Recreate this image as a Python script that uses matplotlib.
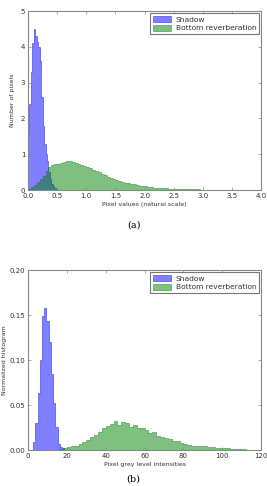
import numpy as np
import matplotlib
matplotlib.use('Agg')
import matplotlib.pyplot as plt

# (a) natural scale
shadow_a = [1.6, 2.4, 3.3, 4.1, 4.5, 4.3, 4.15, 4.0, 3.6, 2.6,
            1.8, 1.3, 1.0, 0.8, 0.5, 0.3, 0.18, 0.1, 0.05, 0.02]
shadow_a_start, shadow_a_width = 0.0, 0.025

bottom_a = [0.03, 0.08, 0.14, 0.22, 0.30, 0.40, 0.52, 0.63, 0.69, 0.72,
            0.74, 0.76, 0.79, 0.82, 0.80, 0.78, 0.76, 0.74, 0.71, 0.68,
            0.65, 0.61, 0.57, 0.53, 0.49, 0.45, 0.41, 0.37, 0.34, 0.31,
            0.29, 0.26, 0.23, 0.21, 0.19, 0.17, 0.16, 0.14, 0.12, 0.11,
            0.10, 0.09, 0.08, 0.07, 0.06, 0.055, 0.05, 0.045, 0.04, 0.035,
            0.03, 0.028, 0.026, 0.024, 0.022, 0.02, 0.018, 0.016, 0.015, 0.014,
            0.013, 0.012, 0.011, 0.010, 0.009, 0.008, 0.008, 0.007, 0.006, 0.006,
            0.005, 0.005, 0.004, 0.004, 0.003, 0.003, 0.003, 0.002, 0.002, 0.002]
bottom_a_start, bottom_a_width = 0.0, 0.05

# (b) grey levels
shadow_b = [0.009, 0.03, 0.063, 0.10, 0.149, 0.158, 0.143, 0.12, 0.085, 0.052,
            0.026, 0.007, 0.003, 0.002]
shadow_b_start, shadow_b_width = 2.6, 1.15

bottom_b = [0.001, 0.002, 0.003, 0.004, 0.005, 0.007, 0.009, 0.011, 0.014, 0.017,
            0.020, 0.024, 0.027, 0.029, 0.032, 0.028, 0.031, 0.030, 0.026, 0.028,
            0.025, 0.024, 0.022, 0.019, 0.020, 0.016, 0.015, 0.013, 0.012, 0.010,
            0.010, 0.008, 0.007, 0.006, 0.005, 0.005, 0.004, 0.004, 0.003, 0.003,
            0.002, 0.002, 0.002, 0.002, 0.001, 0.001, 0.001, 0.001, 0.0005, 0.0005]
bottom_b_start, bottom_b_width = 16.0, 2.0

labels = ['Shadow', 'Bottom reverberation']


def draw_hist(ax, values, start, width, color, label):
    edges = start + width * np.arange(len(values) + 1)
    centers = (edges[:-1] + edges[1:]) / 2
    ax.hist(centers, bins=edges, weights=values, histtype='stepfilled',
            color=color, alpha=0.5, edgecolor=color, linewidth=0.6, label=label)


def style_axes(ax):
    for s in ax.spines.values():
        s.set_color('#888888')
        s.set_linewidth(0.8)
    ax.tick_params(direction='in', top=True, right=True, labelsize=5,
                   length=2.5, width=0.5, color='#888888', labelcolor='#333333', pad=2)
    leg = ax.legend(loc='upper right', fontsize=5.4, borderaxespad=0.3,
                    fancybox=False, handlelength=2.4, handleheight=0.9,
                    borderpad=0.35, labelspacing=0.25, handletextpad=0.6)
    leg.get_frame().set_edgecolor('#555555')
    leg.get_frame().set_linewidth(0.8)
    for t in leg.get_texts():
        t.set_color('#333333')


fig = plt.figure(figsize=(2.67, 4.86), dpi=100)

ax1 = fig.add_axes([0.105, 0.609, 0.873, 0.368])
draw_hist(ax1, shadow_a, shadow_a_start, shadow_a_width, 'blue', labels[0])
draw_hist(ax1, bottom_a, bottom_a_start, bottom_a_width, 'green', labels[1])
ax1.set_xlim(0, 4)
ax1.set_ylim(0, 5)
ax1.set_xticks(np.arange(0, 4.01, 0.5))
ax1.set_yticks(range(0, 6))
ax1.set_xlabel('Pixel values (natural scale)', fontsize=4.5, color='#333333', labelpad=2)
ax1.set_ylabel('Number of pixels', fontsize=4.5, color='#333333', labelpad=4)
style_axes(ax1)

ax2 = fig.add_axes([0.105, 0.074, 0.873, 0.370])
draw_hist(ax2, shadow_b, shadow_b_start, shadow_b_width, 'blue', labels[0])
draw_hist(ax2, bottom_b, bottom_b_start, bottom_b_width, 'green', labels[1])
ax2.set_xlim(0, 120)
ax2.set_ylim(0, 0.20)
ax2.set_xticks(range(0, 121, 20))
ax2.set_yticks([0, 0.05, 0.10, 0.15, 0.20])
ax2.set_yticklabels(['0.00', '0.05', '0.10', '0.15', '0.20'])
ax2.set_xlabel('Pixel grey level intensities', fontsize=4.5, color='#333333', labelpad=2)
ax2.set_ylabel('Normalized histogram', fontsize=4.5, color='#333333', labelpad=2)
style_axes(ax2)

fig.text(0.5, 1 - 225 / 486, '(a)', ha='center', va='center', fontsize=7, family='DejaVu Serif')
fig.text(0.5, 1 - 479 / 486, '(b)', ha='center', va='center', fontsize=7, family='DejaVu Serif')

fig.savefig('out.png', dpi=100)
